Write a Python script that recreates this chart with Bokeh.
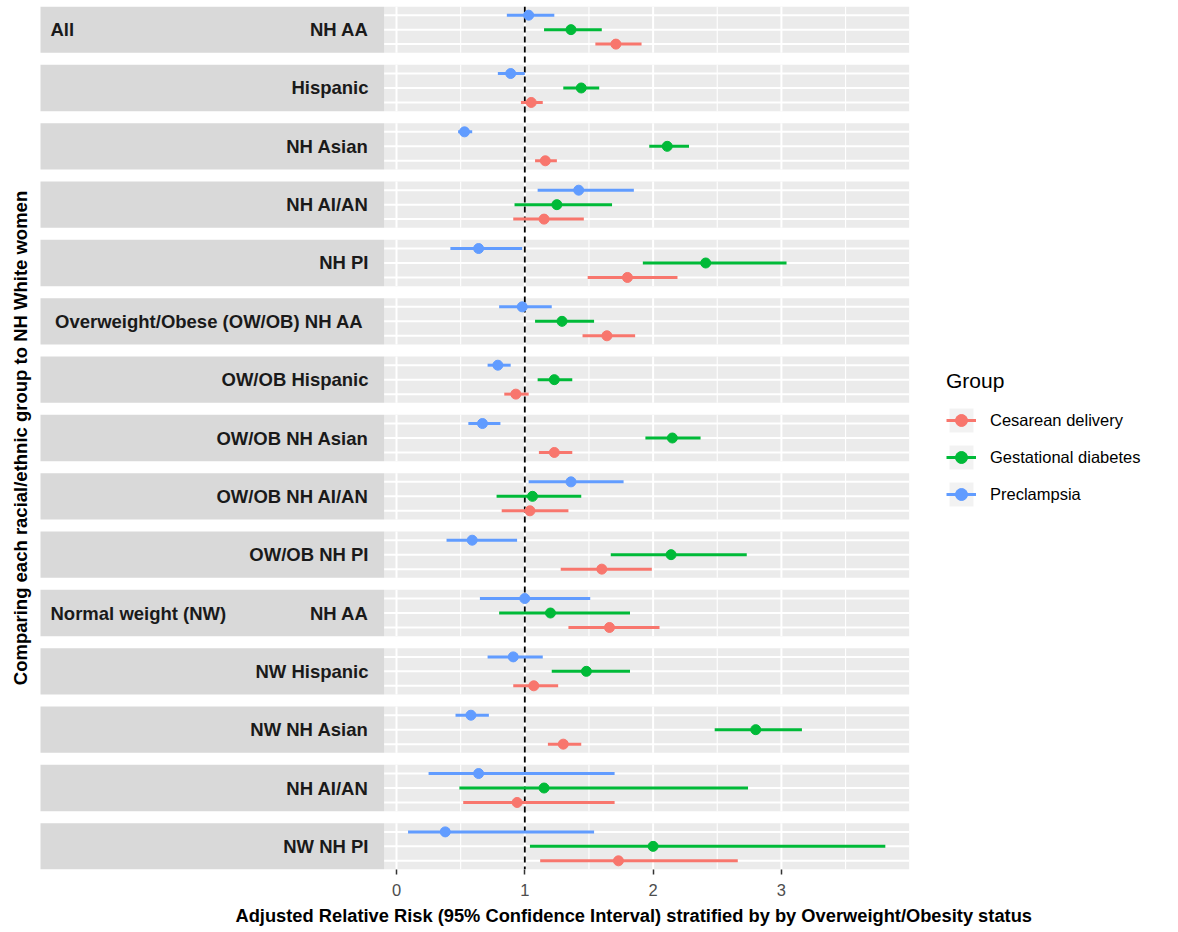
import numpy as np
from bokeh.plotting import figure
from bokeh.models import Range1d, FixedTicker, Title, Legend, LegendItem
from bokeh.core.properties import value
from bokeh.embed import file_html
from bokeh.resources import INLINE

# ---------------- data ----------------
strip_left = ["All", "", "", "", "", "", "", "", "", "",
              "Normal weight (NW)", "", "", "", ""]
strip_right = ["NH AA", "Hispanic", "NH Asian", "NH AI/AN", "NH PI",
               "Overweight/Obese (OW/OB)  NH AA", "OW/OB Hispanic", "OW/OB NH Asian",
               "OW/OB NH AI/AN", "OW/OB NH PI",
               "NH AA", "NW Hispanic", "NW NH Asian", "NH AI/AN", "NW NH PI"]

groups = ["Cesarean delivery", "Gestational diabetes", "Preclampsia"]
colors = ["#F8766D", "#00BA38", "#619CFF"]

ces_est = [1.71, 1.05, 1.16, 1.15, 1.80, 1.64, 0.93, 1.23, 1.04, 1.60, 1.66, 1.07, 1.30, 0.94, 1.73]
ces_lo = [1.55, 0.97, 1.08, 0.91, 1.49, 1.45, 0.84, 1.11, 0.82, 1.28, 1.34, 0.91, 1.18, 0.52, 1.12]
ces_hi = [1.91, 1.14, 1.25, 1.46, 2.19, 1.86, 1.03, 1.37, 1.34, 1.99, 2.05, 1.26, 1.44, 1.70, 2.66]

gdm_est = [1.36, 1.44, 2.11, 1.25, 2.41, 1.29, 1.23, 2.15, 1.06, 2.14, 1.20, 1.48, 2.80, 1.15, 2.00]
gdm_lo = [1.15, 1.30, 1.97, 0.92, 1.92, 1.08, 1.10, 1.94, 0.78, 1.67, 0.80, 1.21, 2.48, 0.49, 1.04]
gdm_hi = [1.60, 1.58, 2.28, 1.68, 3.04, 1.54, 1.37, 2.37, 1.44, 2.73, 1.82, 1.82, 3.16, 2.74, 3.81]

pre_est = [1.03, 0.89, 0.53, 1.42, 0.64, 0.98, 0.79, 0.67, 1.36, 0.59, 1.00, 0.91, 0.58, 0.64, 0.38]
pre_lo = [0.86, 0.79, 0.48, 1.10, 0.42, 0.80, 0.71, 0.56, 1.03, 0.39, 0.65, 0.71, 0.46, 0.25, 0.09]
pre_hi = [1.23, 1.00, 0.59, 1.85, 0.98, 1.21, 0.89, 0.81, 1.77, 0.94, 1.51, 1.14, 0.72, 1.70, 1.54]

x_ticks = [0, 1, 2, 3]
x_title = "Adjusted Relative Risk (95% Confidence Interval) stratified by by Overweight/Obesity status"
y_title = "Comparing each racial/ethnic group to NH White women"
legend_title = "Group"

est = [ces_est, gdm_est, pre_est]
lows = [ces_lo, gdm_lo, pre_lo]
highs = [ces_hi, gdm_hi, pre_hi]

# ---------------- layout ----------------
FONT = "Liberation Sans"
n = len(strip_right)
PANEL_H = 3.2            # 3 discrete levels, ggplot expansion 0.6
GAP = 0.832
PITCH = PANEL_H + GAP
TOTAL = (n - 1) * PITCH + PANEL_H
ROW_PX = 14.47
FRAME_H = int(round(TOTAL * ROW_PX))
row_off = [2.6, 1.6, 0.6]   # Cesarean bottom, GDM middle, Preclampsia top

allv = [v for arr in lows + highs for v in arr]
span_ = max(allv) - min(allv)
XLO = min(allv) - 0.05 * span_
XHI = max(allv) + 0.05 * span_
XSCALE = 128.3
FRAME_W = 1158
X_START = -388.0 / XSCALE       # canvas left edge
X_END = X_START + FRAME_W / XSCALE
STRIP_L = -356.0 / XSCALE
TXT_L = -346.0 / XSCALE
TXT_R = -28.0 / XSCALE
YT_X = -376.0 / XSCALE

panel_top = [k * PITCH for k in range(n)]
panel_bot = [t + PANEL_H for t in panel_top]
panel_mid = [t + PANEL_H / 2 for t in panel_top]

p = figure(frame_width=FRAME_W, frame_height=FRAME_H,
           x_range=Range1d(X_START, X_END), y_range=Range1d(TOTAL, 0),
           output_backend="svg", toolbar_location=None, y_axis_location=None,
           min_border_left=0, min_border_top=0, min_border_right=0, min_border_bottom=0,
           background_fill_color="white", border_fill_color="white",
           outline_line_color=None, margin=(6, 0, 0, 8))
p.grid.visible = False
# ranges used only by the legend-key helper glyph (mapped outside the frame)
p.extra_x_ranges = {"key": Range1d(100, 101)}
p.extra_y_ranges = {"key": Range1d(100, 101)}

# panel backgrounds and strips
p.quad(left=XLO, right=XHI, top=panel_top, bottom=panel_bot,
       fill_color="#EBEBEB", line_color=None)
p.quad(left=STRIP_L, right=XLO, top=panel_top, bottom=panel_bot,
       fill_color="#D9D9D9", line_color=None)

# grid lines
minor = [0.5, 1.5, 2.5, 3.5]
gx, gy0, gy1 = [], [], []
for t, b in zip(panel_top, panel_bot):
    for m in minor:
        gx.append(m); gy0.append(t); gy1.append(b)
p.segment(x0=gx, x1=gx, y0=gy0, y1=gy1, line_color="white", line_width=1.1)
gx, gy0, gy1 = [], [], []
for t, b in zip(panel_top, panel_bot):
    for m in x_ticks:
        gx.append(m); gy0.append(t); gy1.append(b)
p.segment(x0=gx, x1=gx, y0=gy0, y1=gy1, line_color="white", line_width=2)
hy = [t + o for t in panel_top for o in row_off]
p.segment(x0=XLO, x1=XHI, y0=hy, y1=hy, line_color="white", line_width=2)

# reference line (x = 1) through all panels
p.segment(x0=[1], x1=[1], y0=[0], y1=[TOTAL], line_color="black",
          line_width=1.8, line_dash="6 4")

# strip labels
p.text(x=TXT_L, y=panel_mid, text=strip_left, text_font=value(FONT),
       text_font_size="18.5px", text_font_style="bold", text_color="#1A1A1A",
       text_align="left", text_baseline="middle")
p.text(x=TXT_R, y=panel_mid, text=strip_right, text_font=value(FONT),
       text_font_size="18.5px", text_font_style="bold", text_color="#1A1A1A",
       text_align="right", text_baseline="middle")

# y axis title
p.text(x=[YT_X], y=[TOTAL / 2], text=[y_title], angle=np.pi / 2,
       text_font=value(FONT), text_font_size="18.5px", text_font_style="bold",
       text_color="black", text_align="center", text_baseline="middle")

# data
items = []
for gi in [2, 1, 0]:
    ys = [t + row_off[gi] for t in panel_top]
    seg = p.segment(x0=lows[gi], x1=highs[gi], y0=ys, y1=ys,
                    line_color=colors[gi], line_width=3)
    pts = p.scatter(x=est[gi], y=ys, size=10, marker="circle",
                    fill_color=colors[gi], line_color=colors[gi])
    # legend-key helper: grey key background
    bg = p.quad(left=lows[gi], right=highs[gi], top=ys, bottom=ys,
                fill_color="#F2F2F2", line_color=None,
                x_range_name="key", y_range_name="key")
    items.append((gi, LegendItem(label=groups[gi], renderers=[bg, seg, pts])))
items.sort(key=lambda t: t[0])

legend = Legend(items=[it for _, it in items], title=legend_title,
                location=(938, FRAME_H - 503), orientation="vertical",
                glyph_width=30, glyph_height=30, spacing=7, label_standoff=14,
                padding=0, margin=0, border_line_color=None,
                background_fill_alpha=0,
                label_text_font=FONT, label_text_font_size="16.5px",
                label_text_color="black",
                title_text_font=FONT, title_text_font_size="21px",
                title_text_font_style="normal", title_text_color="black",
                title_standoff=12)
p.add_layout(legend)

# x axis
ax = p.xaxis[0]
ax.ticker = FixedTicker(ticks=x_ticks)
ax.axis_line_color = None
ax.major_tick_line_color = "#333333"
ax.major_tick_line_width = 1.5
ax.major_tick_out = 5
ax.major_tick_in = 0
ax.minor_tick_line_color = None
ax.major_label_text_font = FONT
ax.major_label_text_font_size = "16.5px"
ax.major_label_text_color = "#4D4D4D"
ax.major_label_standoff = 9

p.add_layout(Title(text=x_title, align="left", offset=227, standoff=8,
                   text_font=FONT, text_font_size="18.3px",
                   text_font_style="bold", text_color="black"), "below")

open("out.html", "w").write(file_html(p, INLINE))
